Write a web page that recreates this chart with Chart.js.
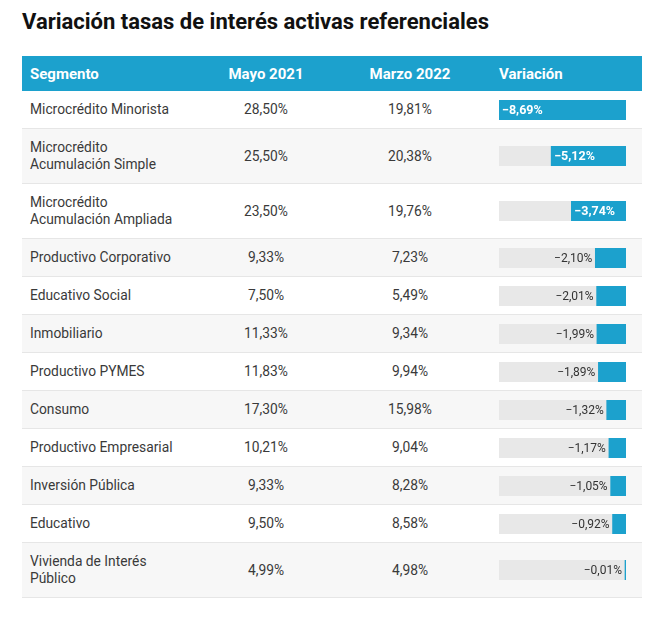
<!DOCTYPE html>
<html lang="es">
<head>
<meta charset="utf-8">
<title>Variación tasas de interés activas referenciales</title>
<script src="https://cdn.jsdelivr.net/npm/chart.js@4.4.1/dist/chart.umd.min.js"></script>
<style>
  body { margin: 0; background: #fff; font-family: Roboto, "Noto Sans", sans-serif; color: #333; }
  #title { position: absolute; left: 22px; top: 9px; font-size: 22px; font-weight: 700; color: #111; line-height: 26px; }
  table { position: absolute; left: 22px; top: 56px; width: 620px; border-collapse: collapse; table-layout: fixed; }
  th { background: #1ca1cd; color: #fff; font-size: 15px; font-weight: 700; height: 35px; padding: 0 8px; }
  td { font-size: 13.8px; line-height: 17px; padding: 10px 8px; border-bottom: 1px solid #e6e6e6; vertical-align: middle; color: #3a3a3a; }
  tr:nth-child(even) td { background: #f7f7f7; }
  .l { text-align: left; }
  .c { text-align: center; }
  th.bar { padding-left: 17px; padding-right: 16px; }
  td.bar { padding: 0 16px 0 17px; }
  canvas { display: block; }
</style>
</head>
<body>
<div id="title">Variación tasas de interés activas referenciales</div>
<table>
  <colgroup><col style="width:172px"><col style="width:144px"><col style="width:144px"><col style="width:160px"></colgroup>
  <thead><tr><th class="l">Segmento</th><th class="c">Mayo 2021</th><th class="c">Marzo 2022</th><th class="l bar">Variación</th></tr></thead>
  <tbody id="rows"></tbody>
</table>
<script>
// Datos de la tabla
const segmentos = [
  ["Microcrédito Minorista"],
  ["Microcrédito", "Acumulación Simple"],
  ["Microcrédito", "Acumulación Ampliada"],
  ["Productivo Corporativo"],
  ["Educativo Social"],
  ["Inmobiliario"],
  ["Productivo PYMES"],
  ["Consumo"],
  ["Productivo Empresarial"],
  ["Inversión Pública"],
  ["Educativo"],
  ["Vivienda de Interés", "Público"]
];
const mayo2021 = [28.50, 25.50, 23.50, 9.33, 7.50, 11.33, 11.83, 17.30, 10.21, 9.33, 9.50, 4.99];
const marzo2022 = [19.81, 20.38, 19.76, 7.23, 5.49, 9.34, 9.94, 15.98, 9.04, 8.28, 8.58, 4.98];
const variacion = [-8.69, -5.12, -3.74, -2.10, -2.01, -1.99, -1.89, -1.32, -1.17, -1.05, -0.92, -0.01];

const azul = "#1ca1cd";
const fmt = v => (v < 0 ? "\u2212" : "") + Math.abs(v).toFixed(2).replace(".", ",") + "%";
const minVar = Math.min(...variacion);

// Fondo gris de la barra
const trackPlugin = {
  id: "track",
  beforeDatasetsDraw(chart) {
    const a = chart.chartArea;
    chart.ctx.save();
    chart.ctx.fillStyle = "#e8e8e8";
    chart.ctx.fillRect(a.left, a.top, a.right - a.left, a.bottom - a.top);
    chart.ctx.restore();
  }
};

// Etiqueta del valor, dentro o fuera de la barra
const labelPlugin = {
  id: "valueLabel",
  afterDatasetsDraw(chart) {
    const bar = chart.getDatasetMeta(0).data[0];
    const value = chart.data.datasets[0].data[0];
    const left = Math.min(bar.x, bar.base);
    const width = Math.abs(bar.base - bar.x);
    const ctx = chart.ctx;
    ctx.save();
    ctx.textBaseline = "middle";
    if (width > 45) {
      ctx.font = "bold 12.5px Roboto";
      ctx.fillStyle = "#fff";
      ctx.textAlign = "left";
      ctx.fillText(fmt(value), left + 3, bar.y + 0.5);
    } else {
      ctx.font = "12px Roboto";
      ctx.fillStyle = "#333";
      ctx.textAlign = "right";
      ctx.fillText(fmt(value), left - 3, bar.y + 0.5);
    }
    ctx.restore();
  }
};

const tbody = document.getElementById("rows");
segmentos.forEach((seg, i) => {
  const tr = document.createElement("tr");
  tr.innerHTML =
    '<td class="l">' + seg.join("<br>") + '</td>' +
    '<td class="c">' + fmt(mayo2021[i]) + '</td>' +
    '<td class="c">' + fmt(marzo2022[i]) + '</td>' +
    '<td class="bar"><canvas width="127" height="20"></canvas></td>';
  tbody.appendChild(tr);

  new Chart(tr.querySelector("canvas").getContext("2d"), {
    type: "bar",
    data: {
      labels: [seg.join(" ")],
      datasets: [{
        label: "Variación",
        data: [variacion[i]],
        backgroundColor: azul,
        borderWidth: 0,
        barPercentage: 1,
        categoryPercentage: 1,
        minBarLength: 1
      }]
    },
    options: {
      indexAxis: "y",
      responsive: false,
      animation: false,
      layout: { padding: 0 },
      scales: {
        x: { display: false, min: minVar, max: 0 },
        y: { display: false }
      },
      plugins: { legend: { display: false }, tooltip: { enabled: false } }
    },
    plugins: [trackPlugin, labelPlugin]
  });
});
</script>
</body>
</html>
